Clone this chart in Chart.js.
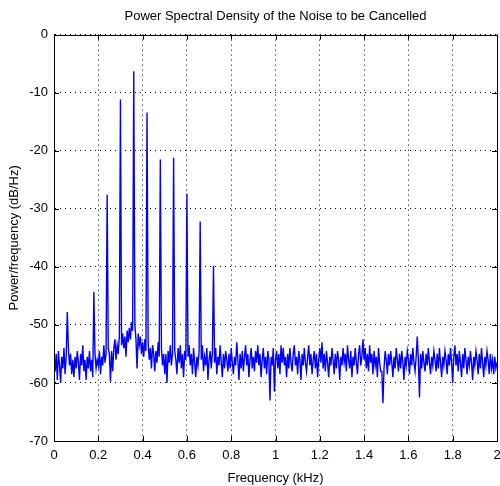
<!DOCTYPE html>
<html>
<head>
<meta charset="utf-8">
<script src="https://cdn.jsdelivr.net/npm/chart.js@4"></script>
<style>
  html, body { margin: 0; padding: 0; background: #fff; }
  #wrap { width: 500px; height: 486px; position: relative; }
</style>
</head>
<body>
<div id="wrap"><canvas id="c" width="500" height="486"></canvas></div>
<script>
// ---- data ----
const titleText = "Power Spectral Density of the Noise to be Cancelled";
const xAxisTitle = "Frequency (kHz)";
const yAxisTitle = "Power/frequency (dB/Hz)";
const xTickLabels = ["0","0.2","0.4","0.6","0.8","1","1.2","1.4","1.6","1.8","2"];
const yTickLabels = ["0","-10","-20","-30","-40","-50","-60","-70"];
const freqStartKHz = 0;
const freqStepKHz = 0.005;   // frequency bin spacing
// PSD in dB/Hz, one value per frequency bin (0 .. 2 kHz)
const psdDb = [
  -56.5,-58.0,-55.0,-59.5,-54.5,-57.0,-60.0,-55.5,-57.5,-54.0,-58.5,-55.5,-47.8,-54.0,-57.0,-55.0,-58.5,-56.0,-59.0,-55.5,
  -57.5,-54.5,-56.5,-59.5,-55.0,-57.0,-53.5,-58.0,-56.0,-59.5,-55.5,-57.5,-54.5,-58.0,-56.0,-59.0,-44.3,-55.0,-57.5,-56.0,
  -57.0,-54.5,-58.5,-55.5,-57.0,-53.5,-56.5,-55.0,-27.6,-54.0,-55.0,-59.8,-54.5,-58.0,-54.0,-52.5,-56.0,-53.5,-55.0,-52.0,
  -11.2,-53.5,-51.5,-54.0,-52.0,-55.5,-51.0,-53.0,-50.5,-52.5,-49.5,-51.0,-6.3,-50.0,-52.5,-57.5,-51.5,-53.5,-52.0,-55.0,
  -53.0,-55.5,-52.5,-54.5,-13.4,-53.0,-56.0,-54.0,-57.5,-53.5,-55.0,-58.0,-54.5,-56.5,-53.0,-55.5,-21.5,-54.0,-57.0,-55.0,
  -58.5,-55.0,-60.0,-54.5,-56.5,-53.5,-57.0,-55.0,-21.2,-54.5,-56.0,-58.5,-54.0,-56.5,-53.5,-57.5,-55.0,-59.0,-54.5,-56.0,
  -27.4,-55.5,-53.5,-57.0,-55.0,-58.5,-54.0,-56.5,-59.0,-55.5,-57.0,-54.5,-32.2,-56.0,-53.5,-58.0,-55.5,-57.0,-54.0,-59.5,
  -56.0,-54.5,-57.5,-55.0,-39.8,-56.5,-54.0,-58.5,-55.5,-57.0,-53.5,-56.5,-59.0,-55.0,-57.5,-54.5,-56.0,-58.0,-55.0,-57.5,
  -54.0,-56.5,-58.5,-55.5,-57.0,-53.0,-56.0,-59.5,-55.0,-57.5,-54.5,-58.0,-55.5,-53.5,-57.0,-55.0,-59.0,-56.0,-54.0,-57.5,
  -55.5,-58.0,-54.5,-56.5,-53.5,-57.0,-55.0,-59.0,-56.0,-54.0,-57.5,-55.5,-58.5,-54.5,-56.0,-63.0,-55.5,-57.0,-54.0,-61.5,
  -56.0,-54.5,-57.5,-55.0,-58.5,-53.5,-56.5,-54.0,-57.0,-55.5,-59.0,-55.0,-57.5,-54.0,-56.5,-58.0,-55.0,-53.5,-57.0,-55.5,
  -58.5,-54.5,-56.0,-59.5,-55.0,-57.0,-54.0,-56.5,-58.0,-55.5,-53.5,-57.0,-55.0,-58.5,-56.0,-54.5,-57.5,-55.0,-59.0,-56.0,
  -54.0,-56.5,-53.0,-57.5,-55.0,-58.0,-54.5,-56.5,-59.0,-55.5,-57.0,-54.0,-56.0,-58.5,-55.0,-57.5,-54.5,-56.0,-59.5,-55.5,
  -57.0,-54.0,-56.5,-55.0,-58.0,-53.5,-56.0,-57.5,-54.5,-59.0,-55.5,-57.0,-54.0,-56.5,-58.5,-55.0,-53.5,-57.0,-55.5,-52.5,
  -56.0,-54.0,-57.5,-55.0,-58.0,-53.5,-56.5,-55.0,-58.5,-54.5,-57.0,-55.5,-59.0,-54.0,-56.5,-58.0,-58.0,-63.5,-57.5,-54.5,
  -56.0,-58.5,-55.0,-57.0,-54.5,-56.5,-59.0,-55.5,-57.5,-54.0,-56.0,-58.0,-55.0,-57.5,-54.5,-56.5,-59.5,-55.5,-57.0,-54.5,
  -56.0,-58.5,-55.0,-57.0,-54.0,-56.5,-58.0,-55.5,-52.0,-56.0,-62.5,-55.0,-57.5,-54.5,-56.5,-58.0,-55.0,-57.0,-54.0,-56.5,
  -58.5,-55.5,-57.0,-54.5,-56.0,-58.0,-55.0,-57.5,-54.0,-56.5,-59.0,-55.5,-57.0,-54.5,-56.0,-58.5,-55.0,-57.0,-54.0,-56.5,
  -60.0,-55.5,-53.5,-57.0,-55.0,-58.0,-54.5,-56.5,-59.0,-55.0,-57.5,-54.0,-56.0,-58.5,-55.5,-57.0,-54.5,-56.5,-59.5,-55.5,
  -57.0,-54.5,-56.0,-58.5,-55.0,-57.5,-54.0,-56.5,-59.0,-55.5,-57.0,-54.5,-56.0,-58.5,-55.0,-57.5,-56.0,-58.5,-55.5,-57.5,
  -56.5
];

// ---- build dataset points from the arrays ----
const points = psdDb.map((v, i) => ({ x: +(freqStartKHz + i * freqStepKHz).toFixed(4), y: v }));

const FONT = "'Liberation Sans', Arial, sans-serif";

// box + inward tick marks, MATLAB style
const boxPlugin = {
  id: 'boxPlugin',
  afterDraw(chart) {
    const { ctx, chartArea: a, scales } = chart;
    ctx.save();
    ctx.strokeStyle = '#000';
    ctx.lineWidth = 1;
    ctx.beginPath();
    ctx.rect(Math.round(a.left) + 0.5, Math.round(a.top) + 0.5,
             Math.round(a.right) - Math.round(a.left), Math.round(a.bottom) - Math.round(a.top));
    ctx.stroke();
    const tl = 5;
    ctx.beginPath();
    scales.x.ticks.forEach(t => {
      const px = Math.round(scales.x.getPixelForValue(t.value)) + 0.5;
      ctx.moveTo(px, a.bottom); ctx.lineTo(px, a.bottom - tl);
      ctx.moveTo(px, a.top); ctx.lineTo(px, a.top + tl);
    });
    scales.y.ticks.forEach(t => {
      const py = Math.round(scales.y.getPixelForValue(t.value)) + 0.5;
      ctx.moveTo(a.left, py); ctx.lineTo(a.left + tl, py);
      ctx.moveTo(a.right, py); ctx.lineTo(a.right - tl, py);
    });
    ctx.stroke();
    ctx.restore();
  }
};

new Chart(document.getElementById('c'), {
  type: 'line',
  data: {
    datasets: [{
      data: points,
      borderColor: '#0000ff',
      borderWidth: 1.4,
      pointRadius: 0,
      tension: 0,
      fill: false
    }]
  },
  options: {
    responsive: false,
    animation: false,
    events: [],
    layout: { autoPadding: false, padding: { left: 0, right: 3, top: 0, bottom: 0 } },
    plugins: {
      legend: { display: false },
      tooltip: { enabled: false },
      title: {
        display: true,
        fullSize: false,
        text: titleText,
        color: '#000',
        font: { family: FONT, size: 13, weight: 'normal' },
        padding: { top: 9, bottom: 10 }
      }
    },
    scales: {
      x: {
        type: 'linear',
        min: 0, max: 2,
        afterFit(s) { s.height = 45; s.paddingLeft = 0; s.paddingRight = 0; },
        afterBuildTicks(s) { s.ticks = xTickLabels.map(l => ({ value: parseFloat(l) })); },
        ticks: {
          color: '#000',
          font: { family: FONT, size: 13 },
          padding: 7,
          maxRotation: 0,
          autoSkip: false,
          callback: (v, i) => xTickLabels[i]
        },
        grid: { color: '#000', lineWidth: 1, drawTicks: false },
        border: { display: true, color: '#000', dash: [1, 4] },
        title: {
          display: true, text: xAxisTitle, color: '#000',
          font: { family: FONT, size: 13 },
          padding: { top: 0, bottom: 0 }
        }
      },
      y: {
        type: 'linear',
        min: -70, max: 0,
        afterFit(s) { s.width = 54; s.paddingTop = 0; s.paddingBottom = 0; },
        afterBuildTicks(s) { s.ticks = yTickLabels.map(l => ({ value: parseFloat(l) })); },
        ticks: {
          color: '#000',
          font: { family: FONT, size: 13 },
          padding: 6,
          autoSkip: false,
          callback: (v, i) => yTickLabels[i]
        },
        grid: { color: '#000', lineWidth: 1, drawTicks: false },
        border: { display: true, color: '#000', dash: [1, 4] },
        title: {
          display: true, text: yAxisTitle, color: '#000',
          font: { family: FONT, size: 13 },
          padding: { top: 7, bottom: 0 }
        }
      }
    }
  },
  plugins: [boxPlugin]
});
</script>
</body>
</html>
